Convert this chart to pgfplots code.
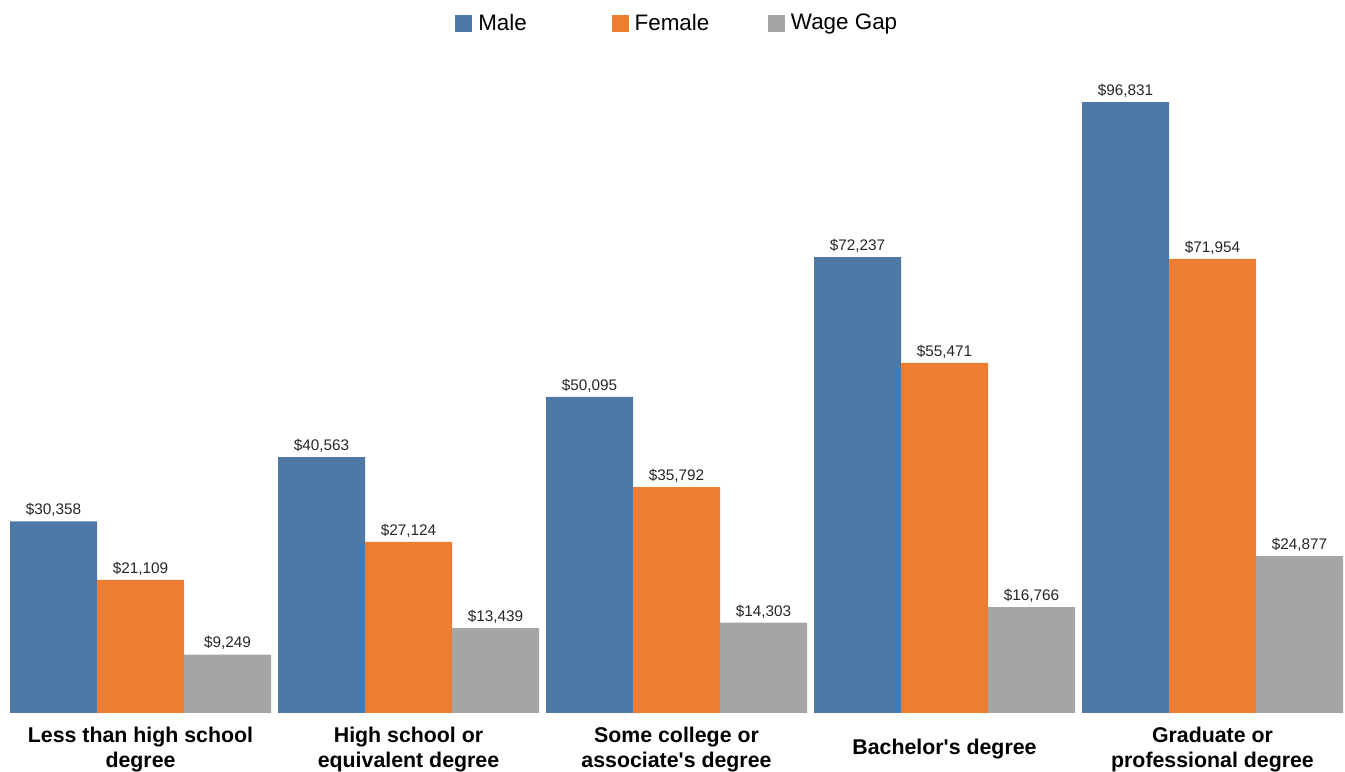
\documentclass[border=0pt]{standalone}
\usepackage{pgfplots}
\pgfplotsset{compat=1.18}
\usepackage{fontspec}
\setmainfont{Liberation Sans}
\definecolor{cMale}{HTML}{4E79A7}
\definecolor{cFemale}{HTML}{ED7D31}
\definecolor{cGap}{HTML}{A5A5A5}
\begin{document}
\begin{tikzpicture}
\begin{axis}[
  scale only axis,
  width=1008.75pt, height=534.75pt,
  xmin=-0.5243, xmax=4.4944,
  ymin=0, ymax=113000,
  enlargelimits=false,
  clip=false,
  ybar,
  bar width=0.3246,
  axis line style={draw=none},
  tick style={draw=none},
  ytick=\empty,
  xtick={0,1,2,3,4},
  xticklabels={{Less than high school\\degree},{High school or\\equivalent degree},{Some college or\\associate\textquotesingle s degree},{Bachelor\textquotesingle s degree},{Graduate or\\professional degree}},
  xticklabel style={anchor=center, yshift=-22.8pt, align=center, font=\bfseries\fontsize{16}{18.75}\selectfont},
  nodes near coords={\$\pgfmathprintnumber[fixed,precision=0,1000 sep={,},assume math mode=true]{\pgfplotspointmeta}},
  every node near coord/.append style={font=\fontsize{11.5}{13}\selectfont, text=black!85},
  legend style={draw=none, fill=none, inner sep=0pt, at={(0.3383,0.9675)}, anchor=west,
    legend columns=3, font=\fontsize{16.8}{18}\selectfont,
    nodes={inner sep=0pt},
    /tikz/every odd column/.append style={column sep=4.5pt},
    /tikz/every even column/.append style={column sep=0pt}},
  legend cell align=left,
  legend image code/.code={\fill[#1] (0pt,-6.375pt) rectangle (12.75pt,6.375pt);},
]
\addplot[fill=cMale, draw=none, bar shift=-0.3246] coordinates {(0,30358) (1,40563) (2,50095) (3,72237) (4,96831)};
\addplot[fill=cFemale, draw=none, bar shift=0] coordinates {(0,21109) (1,27124) (2,35792) (3,55471) (4,71954)};
\addplot[fill=cGap, draw=none, bar shift=0.3246] coordinates {(0,9249) (1,13439) (2,14303) (3,16766) (4,24877)};
\legend{\makebox[100pt][l]{Male},\makebox[100pt][l]{Female},Wage Gap}
\coordinate (sw) at (rel axis cs:0,0);
\coordinate (ne) at (rel axis cs:1,1);
\end{axis}
\pgfresetboundingbox
\useasboundingbox ([yshift=-44.25pt]sw) rectangle (ne);
\end{tikzpicture}
\end{document}
